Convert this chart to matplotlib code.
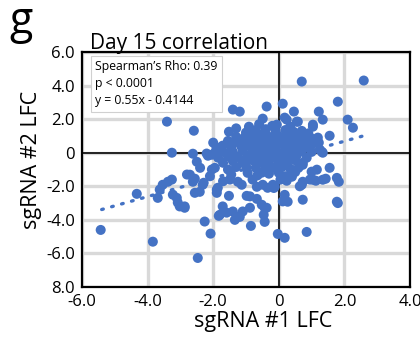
import numpy as np
import matplotlib
matplotlib.use("Agg")
import matplotlib.pyplot as plt

plt.rcParams["font.family"] = ["Open Sans", "DejaVu Sans"]

BLUE = "#4472C4"

# outer / sparse points (sgRNA #1 LFC, sgRNA #2 LFC)
x_out = [-5.43, -4.33, -3.84, -2.47, -3.41, -3.26, -2.59, -2.62, -2.50, -2.16,
         -1.40, -1.19, -0.37, -1.52, -0.91, -0.49, 0.70, 2.59, 1.80, 0.12,
         1.22, 0.46, 2.10, 2.26, 1.34, 1.04, 0.58, 0.18, 1.55, 1.22,
         -1.71, -1.95, 1.34, -0.03, 0.18, 0.85, -0.85, -0.43, -0.46, -1.34,
         -1.10, -1.80, -1.59, -0.52, 1.77, 1.80, 0.73, 0.27, 0.12, 1.83,
         1.77, 1.43, 1.13, 0.95, 0.73, -1.89, -1.52, -0.98, -0.67, -0.18,
         0.18, -0.37, -1.25, -2.08, 1.55, 1.00, 0.24, 0.64, 0.73, 1.31,
         -0.15, -2.80, -2.62, -2.56, -2.32, -2.87, -1.89, -1.71, -1.83, -2.26,
         -1.40, -1.19, -0.88, -0.67, -0.43, -0.34, -0.49, -1.95, -1.55, -1.25,
         -0.88, -3.69, -3.63, -3.54, -3.38, -3.26, -3.23, -3.11, -3.08, -3.02,
         -2.87, -2.71, -2.56, -2.41, -2.29, -0.06, 0.24, 0.55, 1.04, 1.19,
         -2.04, -1.74, -1.34, -2.04, -1.86, -1.49, -1.13, -0.52, -0.12, 0.40,
         0.70, 1.04, 1.34, 1.16, 0.73, 0.79, 1.25]
y_out = [-4.60, -2.45, -5.30, -6.27, 1.85, 0.00, 1.31, -0.06, -0.54, -0.18,
         2.57, 2.45, 2.75, 1.25, 1.55, 2.03, 4.24, 4.30, 3.04, 2.92,
         2.45, 2.45, 1.97, 1.49, 1.97, 1.67, 1.85, 2.09, 1.01, 0.60,
         0.42, 0.00, 0.00, -4.84, -5.07, -4.72, -4.36, -4.12, -3.70, -4.00,
         -3.50, -3.70, -3.57, -3.10, -2.92, -3.00, -2.80, -2.92, -2.90, -1.73,
         -1.50, -1.55, -1.67, -1.60, -1.73, -2.39, -2.57, -2.57, -2.03, -1.91,
         -2.51, -3.28, -3.82, -4.82, -0.90, -1.13, -1.67, -2.00, -0.60, 0.06,
         -2.10, -1.30, -1.73, -2.39, -1.91, -3.20, -2.20, -3.20, -3.76, -4.10,
         -3.50, -3.82, -3.28, -2.75, -3.28, -2.09, -1.91, -0.90, -1.00, -1.73,
         -2.60, -2.69, -2.20, -1.91, -1.73, -1.60, -2.50, -2.69, -2.97, -3.20,
         -3.28, -1.31, -1.55, -2.33, -1.79, 1.67, 1.97, 1.85, 1.55, 0.90,
         -0.12, 0.36, 0.66, -1.00, -2.09, -1.60, -1.91, -1.19, -2.03, -1.43,
         -1.91, -1.61, -1.61, -1.01, -0.72, 0.30, 0.18]

# dense central cluster
x_core = [-1.00, -0.70, -0.40, -0.10, 0.20, 0.45, 0.70, 0.90,
          -1.30, -1.05, -0.80, -0.55, -0.30, -0.05, 0.25, 0.50, 0.75, 1.00,
          -1.55, -1.20, -0.95, -0.70, -0.45, -0.20, 0.05, 0.30, 0.55, 0.80, 1.05,
          -1.90, -1.45, -1.15, -0.85, -0.60, -0.35, -0.10, 0.15, 0.40, 0.65, 0.90,
          -2.20, -1.75, -1.40, -1.10, -0.80, -0.55, -0.30, -0.05, 0.20, 0.45, 0.70, 1.00,
          -1.85, -1.55, -1.25, -0.95, -0.70, -0.45, -0.20, 0.05, 0.30, 0.55, 0.85,
          -1.70, -1.40, -1.10, -0.80, -0.55, -0.30, 0.00, 0.25, 0.50,
          -1.30, -1.00, -0.70, -0.40, -0.15, 0.10, 0.35, 0.60,
          -1.45, -0.95, -0.65, -0.30, 0.00, 0.20, 0.50,
          -0.60, -0.20, 0.35, -1.30, -2.00, -2.40, -2.10, -1.70, -0.80, 0.05,
          -0.85, -0.25, 0.35, -1.60, -1.00, -0.35, 0.15, 0.60, -0.60, 0.10]
y_core = [1.20, 1.35, 1.40, 1.30, 1.35, 1.25, 1.30, 1.15,
          0.95, 0.90, 1.05, 1.00, 0.95, 1.05, 1.00, 0.95, 0.95, 0.85,
          0.70, 0.60, 0.70, 0.65, 0.75, 0.70, 0.65, 0.70, 0.60, 0.70, 0.55,
          0.30, 0.35, 0.40, 0.35, 0.45, 0.40, 0.35, 0.45, 0.40, 0.30, 0.35,
          -0.05, 0.10, 0.05, 0.15, 0.05, 0.15, 0.10, 0.05, 0.15, 0.05, 0.10, 0.05,
          -0.30, -0.20, -0.25, -0.15, -0.25, -0.20, -0.30, -0.20, -0.25, -0.15, -0.30,
          -0.60, -0.50, -0.55, -0.45, -0.60, -0.50, -0.55, -0.60, -0.45,
          -0.85, -0.80, -0.90, -0.80, -0.90, -0.85, -0.95, -0.90,
          -1.30, -1.20, -1.35, -1.25, -1.20, -1.40, -1.15,
          1.70, 1.60, 1.55, 1.45, 0.60, -0.90, -1.40, -1.70, -1.60, -1.60,
          0.50, 0.55, 0.20, -0.05, -0.35, -0.70, -0.35, 0.85, 1.10, 0.90]

x_all = np.array(x_out + x_core)
y_all = np.array(y_out + y_core)

SLOPE, INTERCEPT = 0.55, -0.4144
FIT_X = [-5.4, 2.6]

fig = plt.figure(figsize=(4.2, 3.37), dpi=100)
ax = fig.add_axes([82 / 420, 1 - 287 / 337, 328 / 420, 235 / 337])

ax.set_xlim(-6, 4)
ax.set_ylim(-8, 6)
ax.set_xticks([-6, -4, -2, 0, 2, 4])
ax.set_xticklabels(["-6.0", "-4.0", "-2.0", "0", "2.0", "4.0"])
ax.set_yticks([6, 4, 2, 0, -2, -4, -6, -8])
ax.set_yticklabels(["6.0", "4.0", "2.0", "0", "-2.0", "-4.0", "-6.0", "8.0"])
ax.tick_params(length=0, labelsize=12, pad=5)
ax.grid(True, color="#d9d9d9", linewidth=2.4)
ax.set_axisbelow(True)
for s in ax.spines.values():
    s.set_linewidth(1.6)
    s.set_color("black")
ax.axhline(0, color="#222222", linewidth=1.4, zorder=1)
ax.axvline(0, color="#222222", linewidth=1.4, zorder=1)

ax.scatter(x_all, y_all, s=52, color=BLUE, edgecolors="none", zorder=3)

fx = np.array(FIT_X)
ax.plot(fx, SLOPE * fx + INTERCEPT, color=BLUE, linewidth=2.4,
        linestyle=(0, (0.5, 2.6)), dash_capstyle="round", zorder=4)

ax.text(-5.6, 5.5, "Spearman\u2019s Rho: 0.39\np < 0.0001\ny = 0.55x - 0.4144",
        fontsize=8.8, va="top", ha="left", linespacing=1.4, zorder=5,
        bbox=dict(boxstyle="square,pad=0.35", facecolor="white",
                  edgecolor="#d0d0d0", linewidth=0.8))

fig.text(90 / 420, 1 - 49 / 337, "Day 15 correlation", fontsize=15,
         ha="left", va="baseline")
fig.text(9 / 420, 1 - 33 / 337, "g", fontsize=31, ha="left", va="baseline")
fig.text(32 / 420, 1 - 160 / 337, "sgRNA #2 LFC", fontsize=15.5,
         rotation=90, ha="center", va="center")
fig.text(263 / 420, 1 - 322 / 337, "sgRNA #1 LFC", fontsize=15.5,
         ha="center", va="center")

plt.savefig("out.png", dpi=100)
plt.close()
